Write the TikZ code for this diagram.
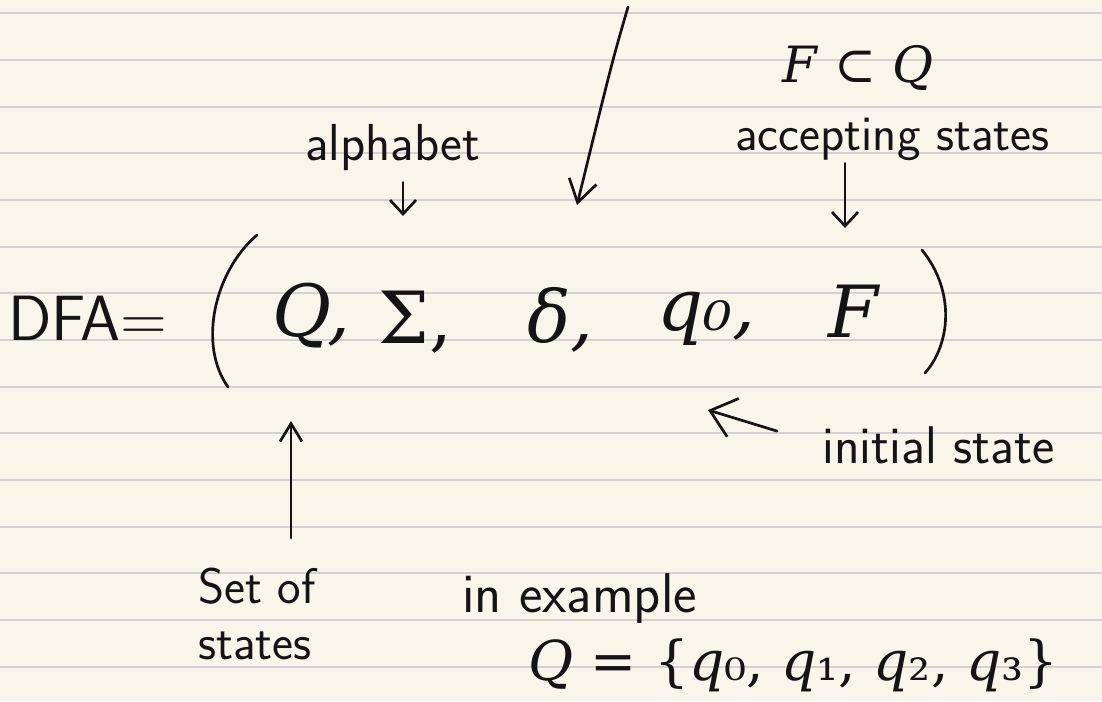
\documentclass[tikz,border=0pt]{standalone}
\usepackage{fontspec}
\newfontfamily\symfont{DejaVu Serif}
\usetikzlibrary{arrows.meta}

\definecolor{paper}{HTML}{F8F6EB}
\definecolor{rulegray}{HTML}{D2D2D2}
\definecolor{ink}{HTML}{141414}

\begin{document}
\begin{tikzpicture}[x=1pt,y=-1pt,line cap=round,line join=round,
  hand/.style={inner sep=0pt,text=ink,anchor=base west,font=\sffamily\fontsize{48}{58}\selectfont},
  tuple/.style={inner sep=0pt,text=ink,anchor=base west,font=\symfont\fontsize{72}{86}\selectfont},
  pen/.style={draw=ink,line width=2.7pt},
  pen arrow/.style={pen,-{Straight Barb[length=14pt,width=26pt]}}]

% tamanho da folha
\def\W{1102}
\def\H{701}

%---------------------------
% folha pautada
%---------------------------
\useasboundingbox (0,0) rectangle (\W,\H);
\fill[paper] (0,0) rectangle (\W,\H);
\foreach \k in {0,...,14}
  \draw[rulegray,line width=1.8pt] (0,{13.33+46.67*\k}) -- (\W,{13.33+46.67*\k});

%---------------------------
% a tupla
%---------------------------
\node[hand,font=\sffamily\fontsize{64}{72}\selectfont] (dfa) at (8,340) {DFA=};
\draw[pen] (257,235) .. controls (214,272) and (198,345) .. (228,387);
\node[tuple] (setQ)  at (272,336) {\itshape Q,};
\node[tuple] (sigma) at (378,343) {Σ,};
\node[tuple] (delta) at (527,342) {\itshape δ,};
\node[tuple] (qzero) at (657,330) {\itshape q₀,};
\node[tuple] (accF)  at (828,337) {\itshape F};
\draw[pen] (922,250) .. controls (956,292) and (950,345) .. (925,373);

%---------------------------
% rótulos de cima
%---------------------------
\node[hand,font=\sffamily\fontsize{52}{62}\selectfont] (alphabet) at (305,160) {alphabet};
\node[inner sep=0pt,text=ink,font=\symfont\fontsize{50}{60}\selectfont] (subsetF) at (858,68) {\textit{F} ⊂ \textit{Q}};
\node[hand,font=\sffamily\fontsize{50}{60}\selectfont] (accepting) at (735,150) {accepting states};

\coordinate (sigtip)   at (403,216);
\coordinate (deltop)   at (628,7);
\coordinate (deltip)   at (577,205);
\coordinate (acctip)   at (845,228);

\draw[pen arrow,shorten <=12pt] (alphabet.south -| sigtip) -- (sigtip);
\draw[pen arrow,-{Straight Barb[length=22pt,width=28pt]}] (deltop) .. controls (612,62) .. (deltip);
\draw[pen arrow,shorten <=3pt] (accepting.south -| acctip) -- (acctip);

%---------------------------
% rótulos de baixo
%---------------------------
\node[hand,font=\sffamily\fontsize{53}{62}\selectfont] (initial) at (822,463) {initial state};
\coordinate (inittip) at (708,410);
\draw[pen arrow,shorten <=47pt,-{Straight Barb[length=24pt,width=40pt]}] (initial.west) -- (inittip);

\node[hand,anchor=north west,align=left,font=\sffamily\fontsize{50}{56}\selectfont] (setlabel) at (198,568) {Set of\\states};
\coordinate (uptip) at (291,421);
\draw[pen arrow,shorten <=30pt,-{Straight Barb[length=18pt,width=22pt]}] (setlabel.north -| uptip) -- (uptip);

\node[hand,font=\sffamily\fontsize{56}{66}\selectfont] (inexample) at (462,612) {in example};
\node[hand,font=\symfont\fontsize{55}{66}\selectfont] (exampleQ) at (528,680) {\textit{Q} = \{\textit{q}₀, \textit{q}₁, \textit{q}₂, \textit{q}₃\}};

\end{tikzpicture}
\end{document}
